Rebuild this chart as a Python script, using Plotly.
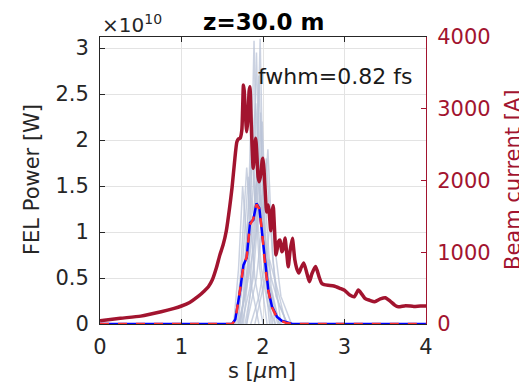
import plotly.graph_objects as go

# ---------------- data ----------------
s_current = [0, 0.25, 0.5, 0.75, 0.9, 1.0, 1.1, 1.2, 1.28, 1.33, 1.38, 1.43, 1.47, 1.51, 1.55,
             1.59, 1.62, 1.65, 1.68, 1.70, 1.72, 1.74, 1.75, 1.76, 1.77, 1.785, 1.80, 1.815,
             1.83, 1.84, 1.85, 1.865, 1.88, 1.895, 1.91, 1.925, 1.94, 1.955, 1.975, 1.99, 2.0,
             2.015, 2.03, 2.045, 2.065, 2.08, 2.095, 2.11, 2.125, 2.14, 2.16, 2.175, 2.19, 2.21,
             2.23, 2.25, 2.27, 2.29, 2.31, 2.33, 2.36, 2.39, 2.42, 2.44, 2.47, 2.50, 2.54, 2.57,
             2.60, 2.645, 2.69, 2.72, 2.75, 2.80, 2.87, 2.945, 3.0, 3.07, 3.12, 3.17, 3.21, 3.25,
             3.31, 3.37, 3.44, 3.50, 3.56, 3.62, 3.66, 3.75, 3.85, 3.93, 4.0]
current_A = [46, 80, 110, 171, 215, 251, 300, 380, 460, 520, 620, 790, 960, 1100, 1300,
             1620, 1900, 2250, 2540, 2580, 2590, 2700, 3000, 3330, 3250, 2900, 2680, 2850,
             3250, 3307, 3000, 2500, 2170, 2400, 2590, 2350, 2050, 1983, 2100, 2280, 2310,
             2100, 1800, 1560, 1658, 1500, 1300, 1550, 1650, 1350, 960, 1050, 1150, 1170,
             1008, 1050, 1198, 1000, 799, 1000, 1194, 900, 753, 710, 790, 850, 700, 590,
             700, 800, 650, 567, 550, 540, 530, 497, 470, 400, 380, 474, 420, 358,
             330, 311, 350, 367, 320, 260, 240, 255, 245, 250, 250]

s_mean = [0, 1.62, 1.66, 1.70, 1.72, 1.76, 1.80, 1.84, 1.88, 1.92, 1.955, 1.985, 2.025, 2.065,
          2.11, 2.17, 2.23, 2.29, 2.36, 4.0]
mean_power_1e10 = [0, 0, 0.05, 0.25, 0.37, 0.64, 0.72, 1.10, 1.13, 1.31, 1.26, 1.02, 0.66, 0.37,
                   0.19, 0.08, 0.035, 0.015, 0.0, 0]

s_fit = [0, 1.62, 1.66, 1.70, 1.72, 1.76, 1.80, 1.84, 1.88, 1.92, 1.955, 1.985, 2.025, 2.065,
         2.11, 2.17, 2.23, 2.29, 2.36, 4.0]
fit_power_1e10 = [0, 0, 0.04, 0.24, 0.38, 0.63, 0.73, 1.08, 1.14, 1.30, 1.25, 1.03, 0.65, 0.36,
                  0.18, 0.07, 0.03, 0.01, 0.0, 0]

shot_s = [
    [1.70, 1.78, 1.84, 1.89, 1.93, 1.98, 2.06, 2.15],
    [1.74, 1.84, 1.90, 1.935, 1.965, 2.00, 2.06, 2.20],
    [1.72, 1.82, 1.88, 1.92, 1.95, 2.02, 2.12],
    [1.80, 1.92, 1.98, 2.04, 2.08, 2.16, 2.30],
    [1.66, 1.72, 1.76, 1.80, 1.85, 1.90, 2.00],
    [1.68, 1.76, 1.82, 1.86, 1.90, 1.96, 2.05],
    [1.70, 1.80, 1.90, 1.97, 2.03, 2.10, 2.20, 2.30],
    [1.78, 1.88, 1.95, 1.99, 2.03, 2.10, 2.20],
    [1.85, 1.95, 2.05, 2.10, 2.15, 2.22, 2.35],
    [1.64, 1.70, 1.75, 1.80, 1.86, 1.95],
    [1.80, 1.88, 1.92, 1.95, 1.99, 2.06, 2.15],
    [1.72, 1.82, 1.87, 1.92, 1.97, 2.02, 2.08, 2.18],
    [1.70, 1.76, 1.82, 1.88, 1.94, 2.00, 2.08],
    [1.76, 1.86, 1.93, 2.00, 2.06, 2.12, 2.22],
    [1.90, 2.00, 2.08, 2.14, 2.20, 2.28],
    [1.74, 1.80, 1.86, 1.91, 1.96, 2.02, 2.10],
]
shot_power_1e10 = [
    [0, 0.3, 1.0, 3.08, 1.2, 0.6, 0.2, 0],
    [0, 0.4, 1.2, 2.0, 3.1, 1.5, 0.5, 0],
    [0, 0.6, 1.5, 2.95, 1.8, 0.6, 0],
    [0, 0.5, 1.0, 1.8, 1.2, 0.3, 0],
    [0, 0.5, 1.1, 1.7, 1.1, 0.5, 0],
    [0, 0.5, 1.2, 2.5, 1.4, 0.6, 0],
    [0, 0.4, 0.9, 1.4, 0.9, 0.5, 0.2, 0],
    [0, 0.5, 1.3, 2.2, 1.3, 0.4, 0],
    [0, 0.3, 0.8, 1.2, 0.8, 0.3, 0],
    [0, 0.6, 1.5, 0.9, 0.4, 0],
    [0, 0.6, 1.4, 2.7, 1.5, 0.5, 0],
    [0, 0.7, 1.9, 1.0, 2.3, 0.9, 0.4, 0],
    [0, 0.8, 1.6, 1.2, 1.7, 0.8, 0],
    [0, 0.9, 1.6, 1.1, 1.9, 0.7, 0],
    [0, 0.4, 0.7, 0.5, 0.3, 0],
    [0, 1.0, 1.9, 2.4, 1.6, 0.9, 0],
]

x_ticks = [0, 1, 2, 3, 4]
y_left_ticks = [0, 0.5, 1, 1.5, 2, 2.5, 3]
y_left_labels = ["0", "0.5", "1", "1.5", "2", "2.5", "3"]
y_right_ticks = [0, 1000, 2000, 3000, 4000]

title_text = "z=30.0 m"
fwhm_text = "fwhm=0.82 fs"

# ---------------- figure ----------------
FONT = "DejaVu Sans"
DARK = "#262626"
CRIMSON = "#A2142F"

fig = go.Figure()

for xs, ys in zip(shot_s, shot_power_1e10):
    fig.add_trace(go.Scatter(x=xs, y=ys, mode="lines", yaxis="y",
                             line=dict(color="rgba(185,195,215,0.75)", width=1.5),
                             showlegend=False, hoverinfo="skip"))

fig.add_trace(go.Scatter(x=s_mean, y=mean_power_1e10, mode="lines", yaxis="y",
                         line=dict(color="#0000ff", width=2.5), showlegend=False))
fig.add_trace(go.Scatter(x=s_fit, y=fit_power_1e10, mode="lines", yaxis="y",
                         line=dict(color="#ff3030", width=2.5, dash="dash"), showlegend=False))
fig.add_trace(go.Scatter(x=s_current, y=current_A, mode="lines", yaxis="y2",
                         line=dict(color=CRIMSON, width=3.5, shape="spline", smoothing=0.6),
                         showlegend=False))

W, H = 519, 385
L, R, T, B = 100, 93, 37, 61
pw, ph = W - L - R, H - T - B


def px(x):
    return (x - L) / pw


def py(y):
    return (H - B - y) / ph


fig.update_layout(
    width=W, height=H, autosize=False,
    margin=dict(l=L, r=R, t=T, b=B, pad=0),
    paper_bgcolor="white", plot_bgcolor="white",
    font=dict(family=FONT, size=21, color=DARK),
    xaxis=dict(range=[0, 4], tickvals=x_ticks, ticks="inside", ticklen=5, tickcolor=DARK,
               showline=True, linecolor=DARK, linewidth=1, mirror="ticks",
               showgrid=True, gridcolor="#e3e3e3", gridwidth=1, zeroline=False,
               tickfont=dict(size=21, color=DARK, family=FONT), ticklabelstandoff=4),
    yaxis=dict(range=[0, 3.12], tickvals=y_left_ticks, ticktext=y_left_labels,
               ticks="inside", ticklen=5, tickcolor=DARK,
               showline=True, linecolor=DARK, linewidth=1,
               showgrid=True, gridcolor="#e3e3e3", gridwidth=1, zeroline=False,
               tickfont=dict(size=21, color=DARK, family=FONT), ticklabelstandoff=6),
    yaxis2=dict(range=[0, 4000], tickvals=y_right_ticks, overlaying="y", side="right",
                ticks="inside", ticklen=5, tickcolor=CRIMSON,
                showline=True, linecolor=CRIMSON, linewidth=1,
                showgrid=False, zeroline=False,
                tickfont=dict(size=21, color=CRIMSON, family=FONT), ticklabelstandoff=6),
)

ann = [
    dict(text="<b>" + title_text + "</b>", x=px(263), y=py(22), font=dict(size=23, color="black")),
    dict(text="×10<sup>10</sup>", x=px(100), y=py(24), xanchor="left",
         font=dict(size=20, color=DARK)),
    dict(text=fwhm_text, x=px(335), y=py(76), font=dict(size=22, color="#1a1a1a")),
    dict(text="s [<i>μ</i>m]", x=px(262), y=py(371), font=dict(size=21, color=DARK)),
    dict(text="FEL Power [W]", x=px(32), y=py(180), textangle=-90, font=dict(size=21, color=DARK)),
    dict(text="Beam current [A]", x=px(513), y=py(180), textangle=-90,
         font=dict(size=21, color=CRIMSON)),
]
for a in ann:
    a.update(xref="paper", yref="paper", showarrow=False)
    a.setdefault("xanchor", "center")
    a.setdefault("yanchor", "middle")
fig.update_layout(annotations=ann)

fig.write_html("out.html")
